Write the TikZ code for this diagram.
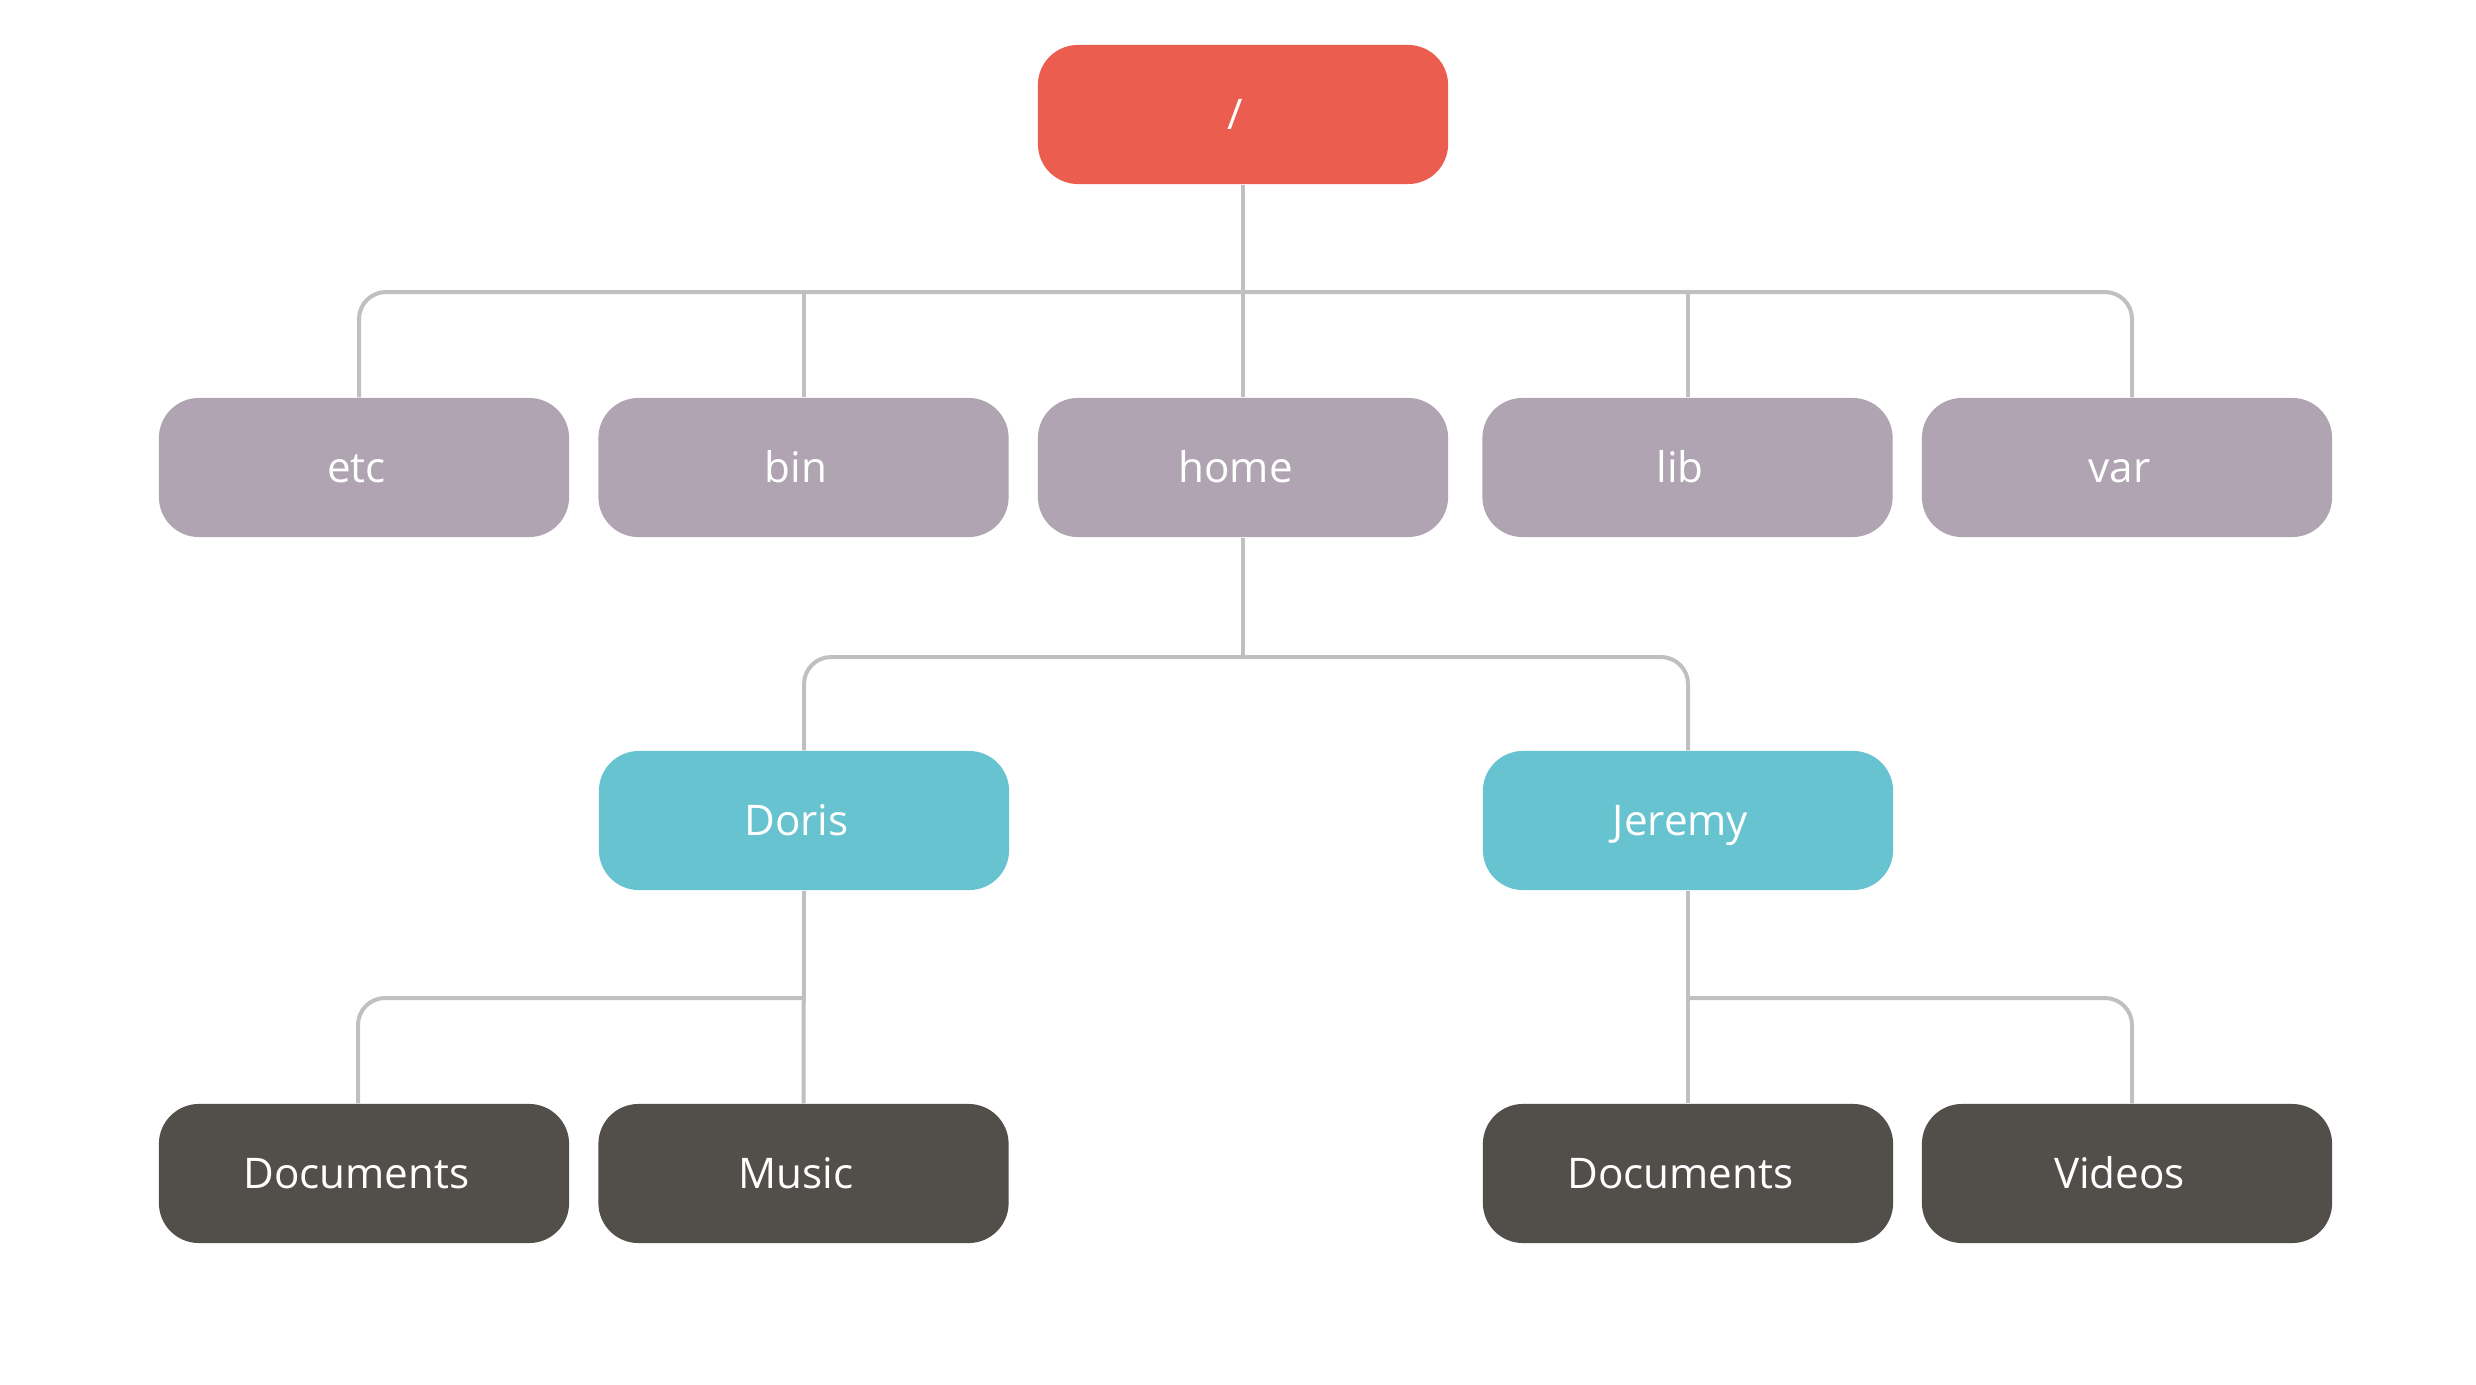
\documentclass[tikz,border=0pt]{standalone}
\usepackage{fontspec}
\newfontfamily\boxfont{Open Sans}
\usetikzlibrary{calc,backgrounds}
\definecolor{rootred}{RGB}{235,93,79}
\definecolor{dirgray}{RGB}{176,164,178}
\definecolor{userteal}{RGB}{103,195,208}
\definecolor{subdark}{RGB}{82,79,74}
\definecolor{wire}{RGB}{192,192,192}
\begin{document}
\begin{tikzpicture}[x=0.01cm,y=-0.01cm,
  dirbox/.style={rectangle, rounded corners=0.4cm, minimum width=4.1cm, minimum height=1.39cm,
    inner sep=0pt, text=white, font=\boxfont\fontsize{12pt}{14pt}\selectfont,
    text height=8.6pt, text depth=0pt, execute at end node={\kern0.15cm}},
  rootbox/.style={dirbox, fill=rootred},
  graybox/.style={dirbox, fill=dirgray},
  tealbox/.style={dirbox, fill=userteal},
  darkbox/.style={dirbox, fill=subdark},
  wireline/.style={draw=wire, line width=0.04cm, rounded corners=0.27cm}]
\useasboundingbox (0,0) rectangle (2476,1385);

\node[rootbox] (root) at (1243,114.5) {/};

\node[graybox] (etc)  at (364,467.5)  {etc};
\node[graybox] (bin)  at (803.5,467.5) {bin};
\node[graybox] (home) at (1243,467.5) {home};
\node[graybox] (lib)  at (1687.5,467.5) {lib};
\node[graybox] (var)  at (2127,467.5) {var};

\node[tealbox] (doris)  at (804,820.5)  {Doris};
\node[tealbox] (jeremy) at (1688,820.5) {Jeremy};

\node[darkbox] (docsa)  at (364,1173.5)   {Documents};
\node[darkbox] (music)  at (803.5,1173.5) {Music};
\node[darkbox] (docsb)  at (1688,1173.5)  {Documents};
\node[darkbox] (videos) at (2127,1173.5)  {Videos};

\coordinate (rootbus) at (1243,292);
\coordinate (homebus) at (1243,657);
\coordinate (dorisbus) at (803,998);
\coordinate (jerbus) at (1687,998);

\begin{pgfonlayer}{background}
\fill[white] (0,0) rectangle (2476,1385);
\draw[wireline] (root.south) -- (home.north);
\draw[wireline] ($(etc.north)+(-5,0)$) |- (rootbus) -| ($(var.north)+(5,0)$);
\draw[wireline] (bin.north) -- (bin.north |- rootbus);
\draw[wireline] (lib.north) -- (lib.north |- rootbus);

\draw[wireline] (home.south) -- (homebus);
\draw[wireline] (doris.north) |- (homebus) -| (jeremy.north);

\draw[wireline] (doris.south) -- (music.north);
\draw[wireline] ($(docsa.north)+(-6,0)$) |- (dorisbus);

\draw[wireline] (jeremy.south) -- (docsb.north);
\draw[wireline] (jerbus) -| ($(videos.north)+(5,0)$);
\end{pgfonlayer}
\end{tikzpicture}
\end{document}
